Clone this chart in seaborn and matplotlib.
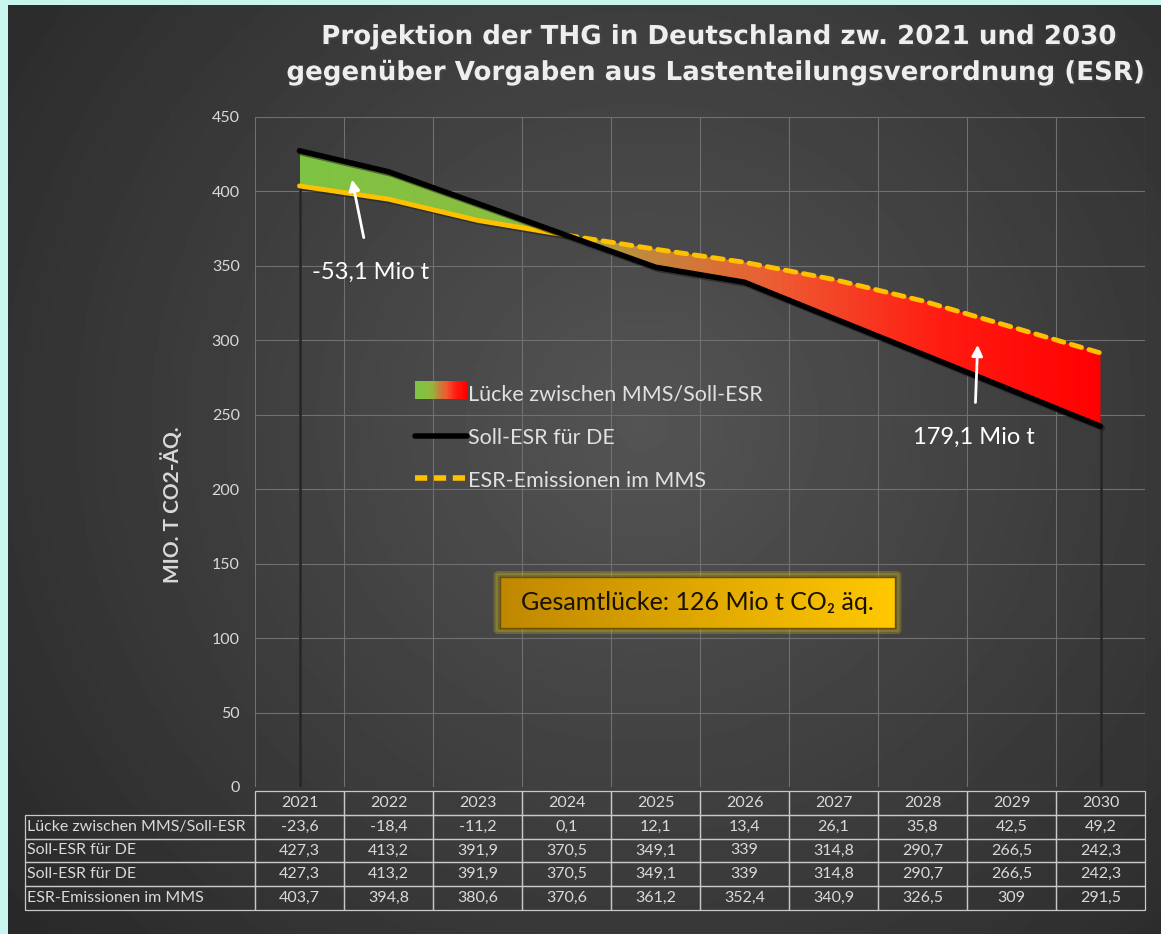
import numpy as np
import matplotlib
matplotlib.use("Agg")
import matplotlib.pyplot as plt
import matplotlib.patheffects as pe
from matplotlib.colors import LinearSegmentedColormap
from matplotlib.patches import Rectangle, FancyBboxPatch
from matplotlib.lines import Line2D
from matplotlib.legend_handler import HandlerBase
import seaborn as sns
import pandas as pd

# data
years = [2021, 2022, 2023, 2024, 2025, 2026, 2027, 2028, 2029, 2030]
luecke = [-23.6, -18.4, -11.2, 0.1, 12.1, 13.4, 26.1, 35.8, 42.5, 49.2]
soll_esr = [427.3, 413.2, 391.9, 370.5, 349.1, 339, 314.8, 290.7, 266.5, 242.3]
mms = [403.7, 394.8, 380.6, 370.6, 361.2, 352.4, 340.9, 326.5, 309, 291.5]
row_labels = ["Lücke zwischen MMS/Soll-ESR", "Soll-ESR für DE", "Soll-ESR für DE", "ESR-Emissionen im MMS"]

sns.set_theme(style="dark")
plt.rcParams['font.family'] = ['Lato', 'DejaVu Sans']

W, H = 1161, 934
fig = plt.figure(figsize=(W / 100, H / 100), dpi=100, facecolor='#c8f5ee')

# dark radial gradient background
bg = fig.add_axes([8 / W, 0, 1 - 8 / W, 1 - 5 / H], zorder=-10)
yy, xx = np.mgrid[0:1:300j, 0:1:370j]
r = np.sqrt(((xx - 0.55) * 1.1) ** 2 + ((yy - 0.45) * 0.9) ** 2)
vals = 0.33 - 0.22 * np.clip(r, 0, 0.9)
bg.imshow(vals, cmap='gray', vmin=0, vmax=1, aspect='auto', extent=[0, 1, 1, 0])
bg.axis('off')

df = pd.DataFrame({'x': np.arange(len(years)), 'soll': soll_esr, 'mms': mms})

ax = fig.add_axes([255 / W, 1 - 787 / H, 890 / W, 670 / H])
ax.set_facecolor('none')

# gradient fill between the two series
cmap = LinearSegmentedColormap.from_list('gap', [(0, '#7ec343'), (0.28, '#8dbd40'), (0.45, '#c8823c'),
                                                 (0.6, '#ee5a32'), (0.8, '#ff1c12'), (1, '#ff0000')])
poly = ax.fill_between(df['x'], df['soll'], df['mms'], color='none')
grad = np.linspace(0, 1, 256).reshape(1, -1)
im = ax.imshow(grad, cmap=cmap, aspect='auto', extent=[0, 9, 200, 450], zorder=2)
im.set_clip_path(poly.get_paths()[0], ax.transData)

# drop lines at the ends
ends = [0, len(years) - 1]
ax.vlines(ends, 0, [min(soll_esr[i], mms[i]) for i in ends], color='#262626', lw=1.8, zorder=1)

shadow = [pe.SimpleLineShadow(offset=(1.5, -1.5), alpha=0.5), pe.Normal()]
sns.lineplot(data=df, x='x', y='soll', ax=ax, color='black', lw=4, zorder=4,
             path_effects=shadow)
sns.lineplot(data=df.iloc[:4], x='x', y='mms', ax=ax, color='#ffc000', lw=3.5, zorder=3,
             solid_capstyle='round', path_effects=shadow)
sns.lineplot(data=df.iloc[3:], x='x', y='mms', ax=ax, color='#ffc000', lw=3.5, zorder=3,
             dashes=(2.2, 1.6), dash_capstyle='round')

ax.set_xlim(-0.5, 9.5)
ax.set_ylim(0, 450)
ax.set_yticks(range(0, 451, 50))
ax.set_xticks(np.arange(-0.5, 10, 1))
ax.set_xticklabels([])
ax.tick_params(axis='y', colors='#d9d9d9', labelsize=11.5, pad=11, length=0)
ax.tick_params(axis='x', length=0)
ax.grid(True, color='#707070', lw=0.8)
ax.set_axisbelow(True)
for s in ax.spines.values():
    s.set_visible(False)
ax.set_xlabel('')
ax.set_ylabel('')

# table below the plot
fmt = lambda v: f"{v:g}".replace('.', ',')
cells = [[''] + [str(y) for y in years]]
for lab, ser in zip(row_labels, [luecke, soll_esr, soll_esr, mms]):
    cells.append([lab] + [fmt(v) for v in ser])
x0 = (25 - 255) / 890
tbl = ax.table(cellText=cells, bbox=[x0, (787 - 910) / 670, 1 - x0, 119 / 670], cellLoc='center')
tbl.auto_set_font_size(False)
lw_first = 230 / 1120
for (rr, cc), cell in tbl.get_celld().items():
    cell.set_facecolor('none')
    cell.set_edgecolor('#c8c8c8')
    cell.set_linewidth(0.9)
    cell.get_text().set_color('#d9d9d9')
    cell.get_text().set_fontsize(11.5)
    cell.set_width(lw_first if cc == 0 else (1 - lw_first) / 10)
    if cc == 0:
        cell.get_text().set_ha('left')
        cell.PAD = 0.01
    if rr == 0 and cc == 0:
        cell.visible_edges = ''

# annotations
ax.annotate('-53,1 Mio t', xy=(0.59, 408), xytext=(0.80, 346), color='white', fontsize=17,
            ha='center', va='center', zorder=6,
            arrowprops=dict(arrowstyle='-|>', color='white', lw=2, shrinkB=0, shrinkA=15,
                            mutation_scale=16))
ax.annotate('179,1 Mio t', xy=(7.62, 297), xytext=(7.58, 235), color='white', fontsize=17,
            ha='center', va='center', zorder=6,
            arrowprops=dict(arrowstyle='-|>', color='white', lw=2, shrinkB=0, shrinkA=15,
                            mutation_scale=16))


# legend with gradient patch
class GradHandler(HandlerBase):
    def create_artists(self, legend, orig, xd, yd, width, height, fontsize, trans):
        n = 24
        out = []
        for i in range(n):
            out.append(Rectangle((xd + width * i / n, yd), width / n + 0.3, height,
                                 facecolor=cmap(i / (n - 1)), edgecolor='none', transform=trans))
        return out


h_grad = Rectangle((0, 0), 1, 1)
h_soll = Line2D([], [], color='black', lw=4)
h_mms = Line2D([], [], color='#ffc000', lw=4, dashes=(2.2, 1.2))
leg = fig.legend([h_grad, h_soll, h_mms],
                 ['Lücke zwischen MMS/Soll-ESR', 'Soll-ESR für DE', 'ESR-Emissionen im MMS'],
                 handler_map={Rectangle: GradHandler()}, loc='upper left',
                 bbox_to_anchor=(396 / W, 1 - 365 / H), frameon=False, fontsize=15.5,
                 handlelength=2.4, handleheight=0.9, handletextpad=0.05, labelspacing=1.05,
                 labelcolor='#e0e0e0')

# total gap box
glow = FancyBboxPatch((498 / W, 1 - 630 / H), 399 / W, 55 / H, boxstyle='round,pad=0.002',
                      transform=fig.transFigure, facecolor='#c8b020', edgecolor='#c8b020',
                      lw=3, alpha=0.3, zorder=5)
fig.patches.append(glow)
bx = fig.add_axes([500 / W, 1 - 628 / H, 395 / W, 51 / H], zorder=6)
gold = LinearSegmentedColormap.from_list('gold', ['#c08800', '#e0a800', '#ffc800'])
bx.imshow(np.linspace(0, 1, 200).reshape(1, -1), cmap=gold, aspect='auto', extent=[0, 1, 0, 1])
bx.set_xticks([])
bx.set_yticks([])
for s in bx.spines.values():
    s.set_color('#6b5000')
    s.set_linewidth(1)
bx.text(0.5, 0.5, 'Gesamtlücke: 126 Mio t CO\u2082 äq.', ha='center', va='center', fontsize=18,
        color='#1a1200', transform=bx.transAxes)

# y label
fig.text(172 / W, 1 - 505 / H, 'MIO. T CO2-ÄQ.', rotation=90, ha='center', va='center',
         fontsize=15, fontweight='bold', color='#d9d9d9')

# title
tshadow = [pe.withSimplePatchShadow(offset=(1.5, -1.5), alpha=0.6)]
fig.text(720 / W, 1 - 37 / H, 'Projektion der THG in Deutschland zw. 2021 und 2030',
         ha='center', va='center', fontsize=18.8, fontweight='bold', color='#eeeeee',
         family=['DejaVu Sans'], path_effects=tshadow)
fig.text(717 / W, 1 - 73 / H, 'gegenüber Vorgaben aus Lastenteilungsverordnung (ESR)',
         ha='center', va='center', fontsize=18.8, fontweight='bold', color='#eeeeee',
         family=['DejaVu Sans'], path_effects=tshadow)

fig.savefig('out.png', dpi=100, facecolor=fig.get_facecolor())
